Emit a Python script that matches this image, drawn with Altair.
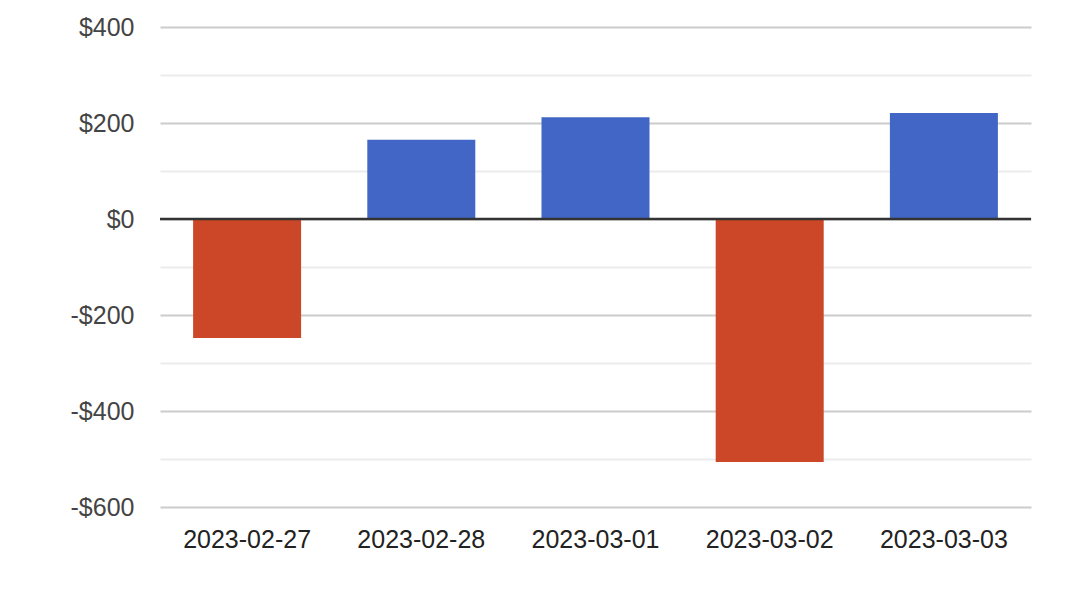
import altair as alt
import pandas as pd

dates = ["2023-02-27", "2023-02-28", "2023-03-01", "2023-03-02", "2023-03-03"]
values = [-248, 165, 212, -506, 221]
tick_values = [-600, -500, -400, -300, -200, -100, 0, 100, 200, 300, 400]

df = pd.DataFrame({"date": dates, "value": values})
zero_df = pd.DataFrame({"z": [0]})

FONT = "Liberation Sans"

bars = alt.Chart(df).mark_bar().encode(
    x=alt.X("date:N", sort=dates, title=None,
            scale=alt.Scale(paddingInner=0.38, paddingOuter=0.19),
            axis=alt.Axis(labelAngle=0, ticks=False, domain=False, grid=False, labelFontSize=25,
                          labelColor="#222222", labelPadding=20, labelFont=FONT)),
    y=alt.Y("value:Q", title=None,
            scale=alt.Scale(domain=[-600, 400], nice=False, zero=True),
            axis=alt.Axis(values=tick_values, ticks=False, domain=False, labelFontSize=25,
                          labelColor="#444444", labelPadding=26, labelFont=FONT,
                          labelExpr="datum.value % 200 === 0 ? ((datum.value < 0 ? '-' : '') + '$' + abs(datum.value)) : ''",
                          gridColor={"condition": {"test": "datum.value % 200 === 0", "value": "#cccccc"}, "value": "#ebebeb"},
                          gridWidth=2)),
    color=alt.condition(alt.datum.value < 0, alt.value("#cc4727"), alt.value("#4166c5")),
)

zero = alt.Chart(zero_df).mark_rule(color="#333333", strokeWidth=2.5).encode(y="z:Q")

chart = alt.layer(bars, zero).properties(
    width=871, height=480,
    background="white",
    autosize=alt.AutoSizeParams(type="none"),
    padding={"left": 152, "top": 19, "right": 31, "bottom": 93},
).configure_view(strokeWidth=0)

chart.save("out.html", embed_options={"renderer": "svg", "actions": False})
